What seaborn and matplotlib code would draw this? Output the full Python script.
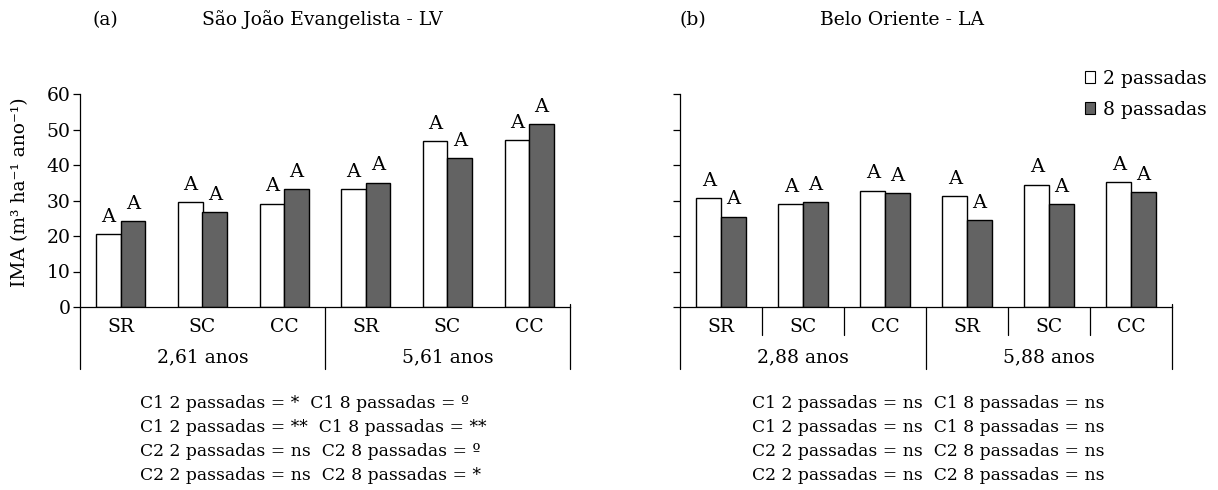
import numpy as np
import pandas as pd
import matplotlib.pyplot as plt
import seaborn as sns

sns.set_style('ticks')
plt.rcParams['font.family'] = ['DejaVu Serif']
for k in ['text.color', 'axes.labelcolor', 'xtick.color', 'ytick.color', 'axes.edgecolor']:
    plt.rcParams[k] = 'black'

# ---------------------------------------------------------
# dados
# ---------------------------------------------------------
manejos = ['SR', 'SC', 'CC']
passadas = ['2 passadas', '8 passadas']

idades_a = ['2,61 anos', '5,61 anos']
ima_a_2 = [20.5, 29.6, 29.1, 33.2, 46.8, 47.0]
ima_a_8 = [24.1, 26.7, 33.1, 35.0, 41.9, 51.5]
letras_a_2 = ['A', 'A', 'A', 'A', 'A', 'A']
letras_a_8 = ['A', 'A', 'A', 'A', 'A', 'A']

idades_b = ['2,88 anos', '5,88 anos']
ima_b_2 = [30.7, 29.0, 32.8, 31.2, 34.5, 35.2]
ima_b_8 = [25.4, 29.5, 32.1, 24.5, 28.9, 32.4]
letras_b_2 = ['A', 'A', 'A', 'A', 'A', 'A']
letras_b_8 = ['A', 'A', 'A', 'A', 'A', 'A']

contrastes = ['C1', 'C1', 'C2', 'C2']
sig_a_2 = ['*', '**', 'ns', 'ns']
sig_a_8 = ['º', '**', 'º', '*']
sig_b_2 = ['ns', 'ns', 'ns', 'ns']
sig_b_8 = ['ns', 'ns', 'ns', 'ns']

cores = ['#ffffff', '#636363']
W, H = 1218, 490
FS = 13.5


def monta_df(idades, v2, v8):
    linhas = []
    for i, idade in enumerate(idades):
        for j, m in enumerate(manejos):
            k = i * 3 + j
            linhas.append((f'{m} {idade}', passadas[0], v2[k]))
            linhas.append((f'{m} {idade}', passadas[1], v8[k]))
    return pd.DataFrame(linhas, columns=['trat', 'passada', 'ima'])


def painel(ax, idades, v2, v8, l2, l8, separa_manejo, mostra_legenda):
    df = monta_df(idades, v2, v8)
    ordem = list(dict.fromkeys(df['trat']))
    sns.barplot(data=df, x='trat', y='ima', hue='passada', order=ordem,
                hue_order=passadas, palette=cores, saturation=1,
                edgecolor='black', linewidth=1.0, width=0.6,
                errorbar=None, legend=mostra_legenda, ax=ax)
    for cont, letras in zip(ax.containers, [l2, l8]):
        ax.bar_label(cont, labels=letras, padding=6, fontsize=14)

    ax.set_xlim(-0.5, 5.5)
    ax.set_ylim(0, 60)
    ax.set_yticks(np.arange(0, 61, 10))
    ax.set_xticks([])
    ax.set_xlabel('')
    ax.set_ylabel('')
    sns.despine(ax=ax)
    for s in ['left', 'bottom']:
        ax.spines[s].set_linewidth(0.9)
    ax.tick_params(axis='y', length=5, width=0.9, labelsize=FS, pad=2)

    # tabela abaixo do eixo x
    tr = ax.get_xaxis_transform()
    fundo = -0.29
    for x in [-0.5, 2.5, 5.5]:
        ax.plot([x, x], [0.015 if x == 5.5 else 0, fundo], transform=tr,
                color='black', lw=0.9, clip_on=False)
    if separa_manejo:
        for x in [0.5, 1.5, 3.5, 4.5]:
            ax.plot([x, x], [0, -0.13], transform=tr, color='black',
                    lw=0.9, clip_on=False)
    for k in range(6):
        ax.text(k, -0.095, manejos[k % 3], transform=tr, ha='center',
                va='center', fontsize=FS)
    for i, idade in enumerate(idades):
        ax.text(1 + 3 * i, -0.235, idade, transform=tr, ha='center',
                va='center', fontsize=FS)


fig = plt.figure(figsize=(W / 100, H / 100), dpi=100)
ax_a = fig.add_axes([80 / W, 1 - 307 / H, 490 / W, 213 / H])
ax_b = fig.add_axes([680 / W, 1 - 307 / H, 492 / W, 213 / H])

painel(ax_a, idades_a, ima_a_2, ima_a_8, letras_a_2, letras_a_8, False, False)
painel(ax_b, idades_b, ima_b_2, ima_b_8, letras_b_2, letras_b_8, True, True)
ax_b.set_yticklabels([])

ax_a.set_ylabel('IMA (m³ ha⁻¹ ano⁻¹)', fontsize=FS)
ax_a.yaxis.set_label_coords(-0.103, 0.54)

h, l = ax_b.get_legend_handles_labels()
ax_b.get_legend().remove()
for p in h:
    p.set_linewidth(0.8)
fig.legend(h, l, loc='upper right', bbox_to_anchor=(1214 / W, 1 - 62 / H),
           frameon=False, fontsize=FS, handlelength=0.55, handleheight=0.55,
           handletextpad=0.4, labelspacing=0.7, borderaxespad=0)

# títulos
fig.text(105 / W, 1 - 20 / H, '(a)', ha='center', va='center', fontsize=FS)
fig.text(322 / W, 1 - 20 / H, 'São João Evangelista - LV', ha='center',
         va='center', fontsize=FS)
fig.text(693 / W, 1 - 20 / H, '(b)', ha='center', va='center', fontsize=FS)
fig.text(902 / W, 1 - 20 / H, 'Belo Oriente - LA', ha='center',
         va='center', fontsize=FS)

# contrastes
for i, c in enumerate(contrastes):
    y = 1 - (403 + 24 * i) / H
    fig.text(140 / W, y, f'{c} 2 passadas = {sig_a_2[i]}  {c} 8 passadas = {sig_a_8[i]}',
             ha='left', va='center', fontsize=12.3)
    fig.text(752 / W, y, f'{c} 2 passadas = {sig_b_2[i]}  {c} 8 passadas = {sig_b_8[i]}',
             ha='left', va='center', fontsize=12.3)

fig.savefig('out.png', dpi=100)
